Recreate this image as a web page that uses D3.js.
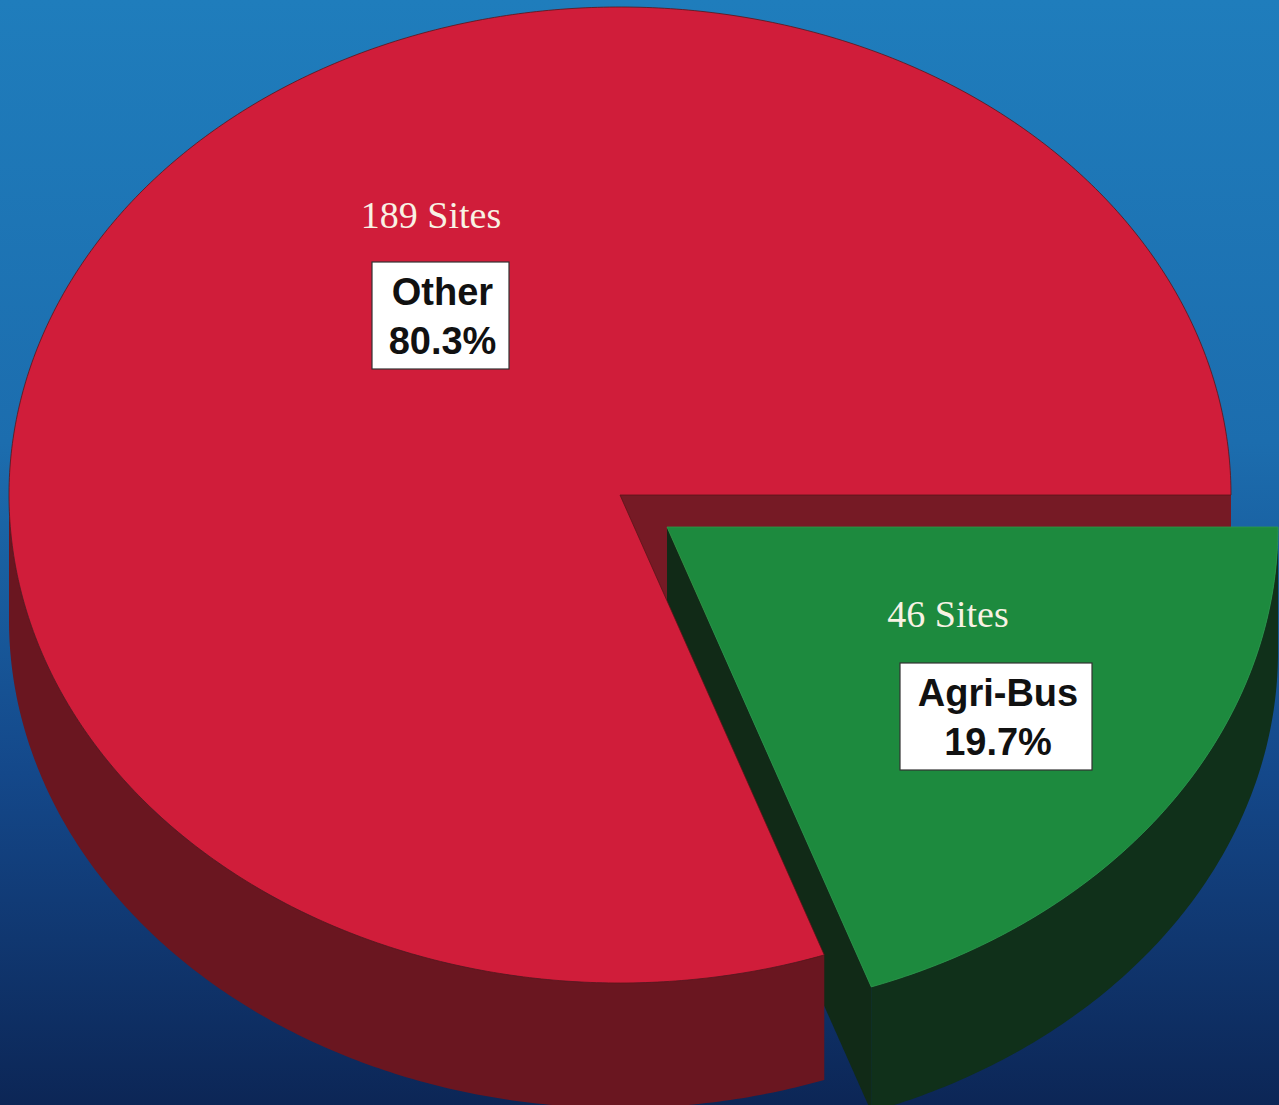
<!DOCTYPE html>
<html>
<head>
<meta charset="utf-8">
<script src="https://d3js.org/d3.v7.min.js"></script>
<style>
body{margin:0;padding:0;overflow:hidden;}
</style>
</head>
<body>
<div id="chart"></div>
<script>
var categories=["Other","Agri-Bus"];
var sites=[189,46];
var percents=["80.3%","19.7%"];

var w=1279;
var h=1105;

var cx=620,cy=495,rx=611,ry=488,depth=125;
var explode={"Agri-Bus":[47,32],"Other":[0,0]};
var topColor={"Other":"#d01d3a","Agri-Bus":"#1d8a3e"};
var sideColor={"Other":"#6a1620","Agri-Bus":"#10301a"};
var cutColor={"Other":"#761a25","Agri-Bus":"#112a17"};

var svg=d3.select("#chart").append("svg")
          .attr("width",w)
          .attr("height",h);

var defs=svg.append("defs");
var grad=defs.append("linearGradient")
             .attr("id","bg")
             .attr("x1",0).attr("y1",0).attr("x2",0).attr("y2",1);
grad.append("stop").attr("offset","0%").attr("stop-color","#1f7dbc");
grad.append("stop").attr("offset","40%").attr("stop-color","#1c6dae");
grad.append("stop").attr("offset","70%").attr("stop-color","#14488a");
grad.append("stop").attr("offset","100%").attr("stop-color","#0c2656");

svg.append("rect")
   .attr("width",w)
   .attr("height",h)
   .attr("fill","url(#bg)");

var data=categories.map(function(c,i){
  return {name:c,value:sites[i],pct:percents[i]};
});

// start so that Agri-Bus begins at 3 o'clock
var total=d3.sum(sites);
var start=Math.PI/2+2*Math.PI*sites[1]/total;
var pie=d3.pie()
          .sort(null)
          .value(function(d){return d.value;})
          .startAngle(start)
          .endAngle(start+2*Math.PI);

var arcs=pie(data);
// keep the start angle inside [0, 2pi)
arcs.forEach(function(d){
  while(d.startAngle>=2*Math.PI){d.startAngle-=2*Math.PI;d.endAngle-=2*Math.PI;}
});

function pt(a,d,z){
  var o=explode[d.data.name];
  return [cx+o[0]+rx*Math.sin(a), cy+o[1]-ry*Math.cos(a)+(z||0)];
}
function center(d,z){
  var o=explode[d.data.name];
  return [cx+o[0], cy+o[1]+(z||0)];
}
function arcPts(a0,a1,d,z){
  var n=Math.max(2,Math.ceil(Math.abs(a1-a0)/0.01));
  return d3.range(n+1).map(function(i){
    return pt(a0+(a1-a0)*i/n,d,z);
  });
}
var line=d3.line();

function topPath(d){
  var p=[center(d)].concat(arcPts(d.startAngle,d.endAngle,d));
  return line(p)+"Z";
}
function sidePath(d){
  var a0=Math.max(d.startAngle,Math.PI/2);
  var a1=Math.min(d.endAngle,3*Math.PI/2);
  if(a1<=a0) return null;
  var p=arcPts(a0,a1,d).concat(arcPts(a1,a0,d,depth));
  return line(p)+"Z";
}
function cutPath(d,a){
  var p=[center(d),pt(a,d),pt(a,d,depth),center(d,depth)];
  return line(p)+"Z";
}

var other=arcs[0],agri=arcs[1];
var g=svg.append("g");

// back face of the red slice, seen in the gap
g.append("path")
 .attr("d",cutPath(other,other.endAngle))
 .attr("fill",cutColor["Other"]);

// green slice
g.append("path")
 .attr("d",cutPath(agri,agri.endAngle))
 .attr("fill",cutColor["Agri-Bus"]);
g.append("path")
 .attr("d",sidePath(agri))
 .attr("fill",sideColor["Agri-Bus"]);
g.append("path")
 .attr("d",topPath(agri))
 .attr("fill",topColor["Agri-Bus"])
 .attr("stroke","#2f9a48")
 .attr("stroke-width",0.8);

// red slice
g.append("path")
 .attr("d",sidePath(other))
 .attr("fill",sideColor["Other"]);
g.append("path")
 .attr("d",topPath(other))
 .attr("fill",topColor["Other"])
 .attr("stroke","#5a1418")
 .attr("stroke-width",0.8);

// labels
var labelLayout={
  "Other":{sx:431,sy:228,bx:372,by:262,bw:137,bh:107},
  "Agri-Bus":{sx:948,sy:627,bx:900,by:663,bw:192,bh:107}
};

arcs.forEach(function(d){
  var L=labelLayout[d.data.name];
  svg.append("text")
     .attr("x",L.sx)
     .attr("y",L.sy)
     .attr("text-anchor","middle")
     .attr("font-family","'Liberation Serif','Times New Roman',serif")
     .attr("font-size",38)
     .attr("fill","#f8f2e4")
     .text(d.data.value+" Sites");
  svg.append("rect")
     .attr("x",L.bx)
     .attr("y",L.by)
     .attr("width",L.bw)
     .attr("height",L.bh)
     .attr("fill","#ffffff")
     .attr("stroke","#333")
     .attr("stroke-width",1.2);
  var t=svg.append("text")
     .attr("text-anchor","middle")
     .attr("font-family","'Liberation Sans',Arial,sans-serif")
     .attr("font-weight","bold")
     .attr("font-size",38)
     .attr("fill","#111");
  t.append("tspan")
   .attr("x",L.bx+L.bw/2+2)
   .attr("y",L.by+43)
   .text(d.data.name);
  t.append("tspan")
   .attr("x",L.bx+L.bw/2+2)
   .attr("y",L.by+92)
   .text(d.data.pct);
});
</script>
</body>
</html>
